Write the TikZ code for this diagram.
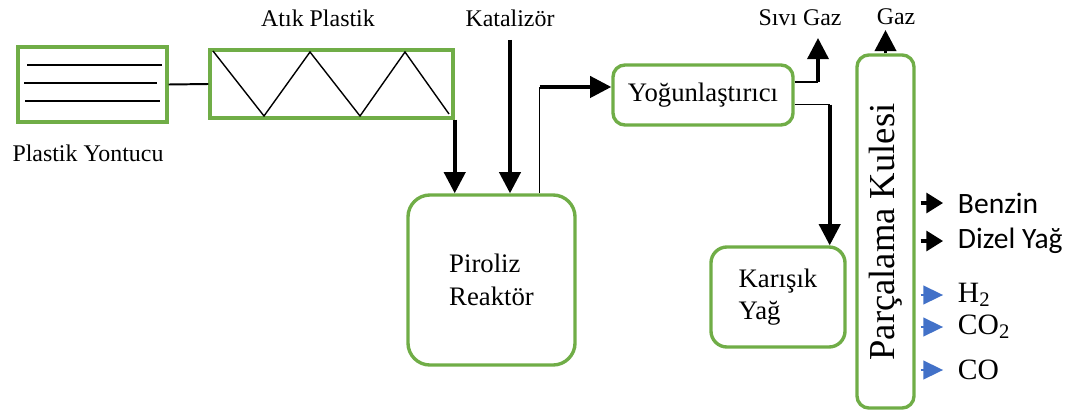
\documentclass[tikz,border=0pt]{standalone}
\usepackage{fontspec}
\setmainfont{Liberation Serif}
\newfontfamily\calibrifont{Carlito}
\usetikzlibrary{arrows.meta}
\definecolor{boxgreen}{RGB}{112,173,71}
\definecolor{gasblue}{RGB}{66,113,200}
\begin{document}
\begin{tikzpicture}[x=0.025cm,y=-0.025cm,
    unit/.style={draw=boxgreen, line width=2.4pt, inner sep=0pt},
    lbl/.style={font=\fontsize{17}{21}\selectfont},
    boxlbl/.style={font=\fontsize{19}{23}\selectfont, align=left},
    prodlbl/.style={font=\calibrifont\fontsize{21}{25}\selectfont, anchor=west},
    gaslbl/.style={font=\fontsize{21}{25}\selectfont, anchor=west},
    flow/.style={line width=2.6pt, -{Triangle[length=15pt,width=15pt]}},
    thinline/.style={line width=1pt},
    prodarrow/.style={line width=3pt, -{Triangle[length=12pt,width=14pt]},
        shorten <=3.5pt, shorten >=7pt},
    gasarrow/.style={prodarrow, gasblue, line width=2pt,
        -{Triangle[length=14pt,width=13pt]}}]
\useasboundingbox (0,0) rectangle (1070,414);
% grinder and screw feeder
\node[unit, minimum width=3.725cm, minimum height=1.875cm] (yontucu) at (92.5,84.5) {};
\draw[line width=1.4pt] (27,65) -- (162,65);
\draw[line width=1.4pt] (24,83) -- (157,83);
\draw[line width=1.4pt] (25,101) -- (160,101);
\node[lbl] (yontucutext) at (88,153) {Plastik Yontucu};
\node[unit, minimum width=6.075cm, minimum height=1.7cm] (atik) at (331.5,84) {};
\draw[thinline] (213,51) -- (264,116) -- (310,52) -- (360,116) -- (405,52) -- (449,114);
\node[lbl] (atiktext) at (318,18) {Atık Plastik};
\draw[line width=1.4pt] (yontucu.east) -- (atik.west);
% reactor
\node[unit, rounded corners=0.55cm, minimum width=4.175cm, minimum height=4.25cm, boxlbl] (piroliz) at (491.5,280) {Piroliz\\Reaktör};
\node[lbl] (kat) at (510,18) {Katalizör};
\draw[flow] (atik.south east) -- (atik.south east |- piroliz.north);
\draw[flow, shorten <=6pt] (kat.south) -- (kat.south |- piroliz.north);
% condenser
\node[unit, rounded corners=0.3cm, minimum width=4.5cm, minimum height=1.5cm, boxlbl] (yog) at (703,95) {Yoğunlaştırıcı};
\draw[thinline] (piroliz.61) -- (piroliz.61 |- yog.175);
\draw[flow] (piroliz.61 |- yog.175) -- (yog.175);
\node[lbl] (sivi) at (800,18) {Sıvı Gaz};
\coordinate (sivitip) at (818,38);
\draw[thinline] (yog.8) -- (yog.8 -| sivitip);
\draw[flow, line width=2.4pt] (yog.8 -| sivitip) -- (sivitip);
% mixed oil
\node[unit, rounded corners=0.4cm, minimum width=3.35cm, minimum height=2.5cm, boxlbl] (karisik) at (778,297) {Karışık\\Yağ};
\draw[thinline] (yog.-6) -- (yog.-6 -| karisik.45);
\draw[flow] (yog.-6 -| karisik.45) -- (karisik.45);
% cracking tower
\node[unit, rounded corners=0.3cm, minimum width=1.425cm, minimum height=8.825cm] (kule) at (885.5,231.5) {};
\node[rotate=90, font=\fontsize{26}{30}\selectfont] (kuletext) at (886,232) {Parçalama Kulesi};
\node[lbl] (gaz) at (896,17) {Gaz};
\draw[flow] (kule.north) -- (kule.north |- gaz.south);
\node[prodlbl] (benzin) at (953,203) {Benzin};
\node[prodlbl] (dizel) at (953,241) {Dizel Yağ};
\node[gaslbl] (h2) at (953,295) {H\textsubscript{2}};
\node[gaslbl] (co2) at (953,327) {CO\textsubscript{2}};
\node[gaslbl] (co) at (953,370) {CO};
\foreach \p in {benzin,dizel}
  \draw[prodarrow] (kule.east |- \p.west) -- (\p.west);
\foreach \p in {h2,co2,co}
  \draw[gasarrow] (kule.east |- \p.west) -- (\p.west);
\end{tikzpicture}
\end{document}
